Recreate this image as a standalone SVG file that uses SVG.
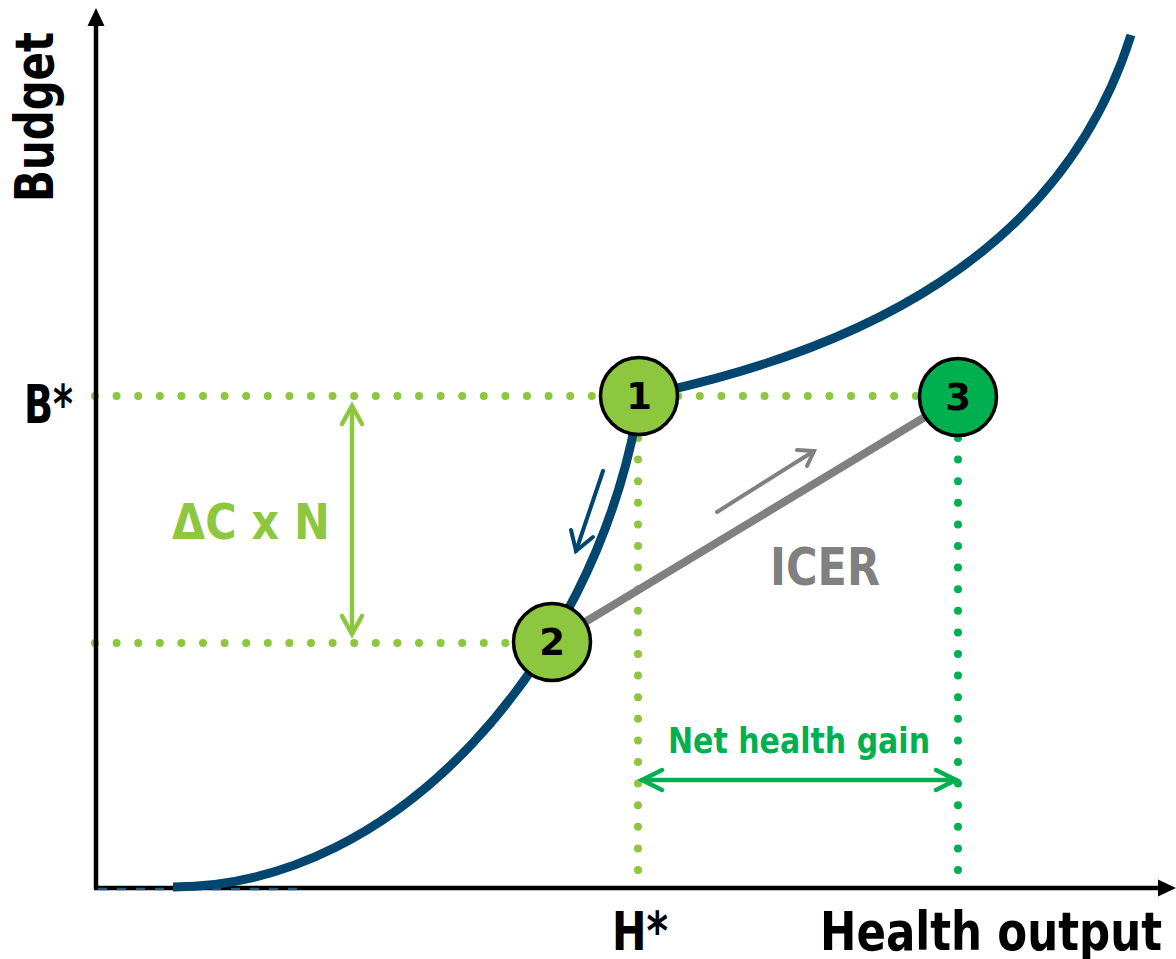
<svg xmlns="http://www.w3.org/2000/svg" width="1176" height="959" viewBox="0 0 1176 959">
<style>
.t{font-family:"DejaVu Sans","Liberation Sans",sans-serif;font-weight:bold;}
.dotL{fill:none;stroke:#8DC63F;stroke-width:8;stroke-linecap:round;stroke-dasharray:0 21.6;}
.dotG{fill:none;stroke:#00B050;stroke-width:8;stroke-linecap:round;stroke-dasharray:0 21.6;}
.node{stroke:#000;stroke-width:3.5;}
.num{font-family:"DejaVu Sans","Liberation Sans",sans-serif;font-weight:bold;font-size:37px;fill:#000;text-anchor:middle;}
</style>
<rect width="1176" height="959" fill="#fff"/>
<g id="guides">
<path class="dotL" d="M95,396 H920"/>
<path class="dotL" d="M95,643 H515"/>
<path class="dotL" d="M638,438 V888"/>
<path class="dotG" d="M958,438 V888"/>
</g>
<g id="axes">
<line x1="96" y1="889" x2="96" y2="22" stroke="#000" stroke-width="4.5"/>
<polygon points="96,8 87.5,26 104.5,26" fill="#000"/>
<line x1="94" y1="888" x2="1162" y2="888" stroke="#000" stroke-width="4.5"/>
<polygon points="1176,888 1158,879.5 1158,896.5" fill="#000"/>
<line x1="98" y1="889" x2="302" y2="889" stroke="#1f5a80" stroke-width="2.5" stroke-dasharray="9 10"/>
</g>
<g id="connectors">
<path d="M173,887 C400,887 590,660 636,420" fill="none" stroke="#00466E" stroke-width="9"/>
<path d="M660,392 C850,350 1060,260 1131,35" fill="none" stroke="#00466E" stroke-width="9"/>
<line x1="552" y1="642" x2="958" y2="397" stroke="#808080" stroke-width="8"/>
<g fill="none" stroke="#808080" stroke-width="4" stroke-linecap="round">
<line x1="717" y1="512" x2="814" y2="451"/>
<polyline points="797,450 814,451 807,466"/>
</g>
<g fill="none" stroke="#00466E" stroke-width="4" stroke-linecap="round">
<line x1="603" y1="471" x2="576" y2="551"/>
<polyline points="571,530 576,551 593,537"/>
</g>
<g fill="none" stroke="#8DC63F" stroke-width="4.5" stroke-linecap="round">
<line x1="352" y1="407" x2="352" y2="633"/>
<polyline points="342,424 352,406 362,424"/>
<polyline points="342,616 352,634 362,616"/>
</g>
<g fill="none" stroke="#00B050" stroke-width="4.5" stroke-linecap="round">
<line x1="642" y1="780" x2="956" y2="780"/>
<polyline points="662,770 642,780 662,790"/>
<polyline points="936,770 956,780 936,790"/>
</g>
</g>
<g id="node1"><circle class="node" cx="639" cy="396" r="38.5" fill="#8DC63F"/><text class="num" x="639" y="409">1</text></g>
<g id="node2"><circle class="node" cx="552" cy="642" r="38.5" fill="#8DC63F"/><text class="num" x="552" y="655">2</text></g>
<g id="node3"><circle class="node" cx="958" cy="397" r="38.5" fill="#00B050"/><text class="num" x="958" y="410">3</text></g>
<g id="labels">
<text class="t" font-size="54" transform="translate(53,117) rotate(-90)" text-anchor="middle" textLength="170" lengthAdjust="spacingAndGlyphs">Budget</text>
<text class="t" x="24" y="423" font-size="53" textLength="49" lengthAdjust="spacingAndGlyphs">B*</text>
<text class="t" x="612" y="950" font-size="53" textLength="56" lengthAdjust="spacingAndGlyphs">H*</text>
<text class="t" x="820" y="950" font-size="53" textLength="342" lengthAdjust="spacingAndGlyphs">Health output</text>
<text class="t" x="172" y="539" font-size="50" fill="#8DC63F" textLength="158" lengthAdjust="spacingAndGlyphs">ΔC x N</text>
<text class="t" x="770" y="585" font-size="52" fill="#808080" textLength="110" lengthAdjust="spacingAndGlyphs">ICER</text>
<text class="t" x="668" y="753" font-size="36" fill="#00B050" textLength="262" lengthAdjust="spacingAndGlyphs">Net health gain</text>
</g>
</svg>
